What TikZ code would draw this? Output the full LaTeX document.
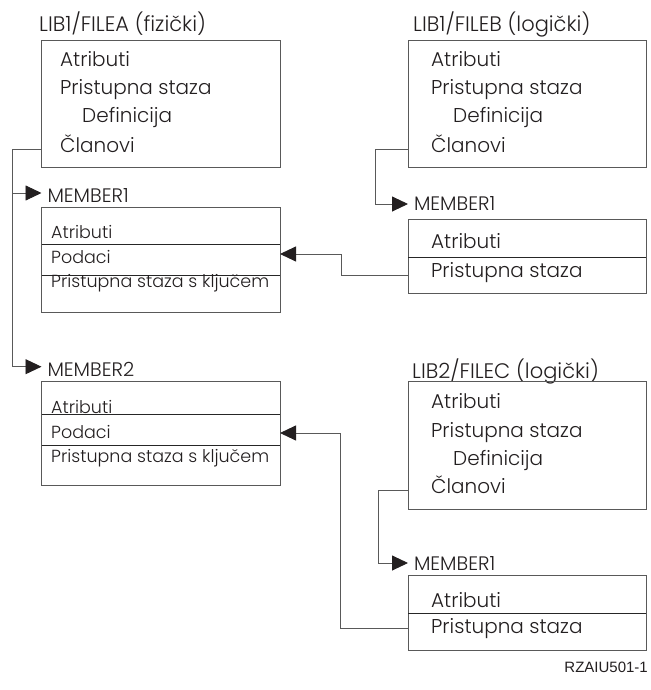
\documentclass[tikz,border=0pt]{standalone}
\usepackage{fontspec}
\setmainfont{Poppins}[UprightFont={* Light}]
\newfontfamily\codefont{Liberation Sans}
\usetikzlibrary{arrows.meta}
\definecolor{ink}{HTML}{231F20}
\tikzset{
  box/.style={draw=black!65, line width=0.9pt, inner sep=0pt, outer sep=0pt, anchor=north west},
  bigtxt/.style={anchor=base west, inner sep=0pt, text=ink, font=\fontsize{20}{20}\selectfont},
  titletxt/.style={anchor=base west, inner sep=0pt, text=ink, font=\fontsize{21}{21}\selectfont},
  smalltxt/.style={anchor=base west, inner sep=0pt, text=ink, font=\fontsize{17.5}{17.5}\selectfont},
  memlabel/.style={anchor=base west, inner xsep=6pt, inner ysep=0pt, outer sep=0pt, text=ink, font=\fontsize{19.5}{19.5}\selectfont},
  divider/.style={draw=black!85, line width=0.9pt},
  conn/.style={draw=black!65, line width=0.9pt},
  arr/.style={conn, -{Triangle[length=16pt,width=15pt,color=ink,fill=ink]}},
}
\begin{document}
\begin{tikzpicture}[x=1pt,y=-1pt]
\useasboundingbox (0,0) rectangle (650,690);

% ---- LIB1/FILEA (physical file) ----
\node[titletxt] (faT) at (39,32) {LIB1/FILEA (fizički)};
\node[box, minimum width=238.5pt, minimum height=127pt] (fa) at (41.5,40) {};
\node[bigtxt] (fa1) at (60,67) {Atributi};
\node[bigtxt] (fa2) at (60,95) {Pristupna staza};
\node[bigtxt] (fa3) at (82,123) {Definicija};
\node[bigtxt] (fa4) at (60,152) {Članovi};

% ---- MEMBER1 of FILEA ----
\node[memlabel] (maL) at (41.5,202) {MEMBER1};
\node[box, minimum width=238.5pt, minimum height=105pt] (ma) at (41.5,207) {};
\draw[divider] ([yshift=-37pt]ma.north west) -- ([yshift=-37pt]ma.north east);
\draw[divider] ([yshift=-68pt]ma.north west) -- ([yshift=-68pt]ma.north east);
\node[smalltxt] (ma1) at (51,238) {Atributi};
\node[smalltxt] (ma2) at (51,263) {Podaci};
\node[smalltxt] (ma3) at (51,287) {Pristupna staza s ključem};

% ---- MEMBER2 of FILEA ----
\node[memlabel] (mbL) at (41.5,376) {MEMBER2};
\node[box, minimum width=238.5pt, minimum height=104pt] (mb) at (41.5,381) {};
\draw[divider] ([yshift=-33pt]mb.north west) -- ([yshift=-33pt]mb.north east);
\draw[divider] ([yshift=-64pt]mb.north west) -- ([yshift=-64pt]mb.north east);
\node[smalltxt] (mb1) at (51,413) {Atributi};
\node[smalltxt] (mb2) at (51,438) {Podaci};
\node[smalltxt] (mb3) at (51,462) {Pristupna staza s ključem};

% ---- LIB1/FILEB (logical file) ----
\node[titletxt] (fbT) at (413,32) {LIB1/FILEB (logički)};
\node[box, minimum width=238pt, minimum height=127pt] (fb) at (408,40) {};
\node[bigtxt] (fb1) at (431,67) {Atributi};
\node[bigtxt] (fb2) at (431,95) {Pristupna staza};
\node[bigtxt] (fb3) at (453,123) {Definicija};
\node[bigtxt] (fb4) at (431,152) {Članovi};

% ---- MEMBER1 of FILEB ----
\node[memlabel] (mcL) at (408,210) {MEMBER1};
\node[box, minimum width=238pt, minimum height=74pt] (mc) at (408,219) {};
\draw[divider] ([yshift=-38pt]mc.north west) -- ([yshift=-38pt]mc.north east);
\node[bigtxt] (mc1) at (431,248) {Atributi};
\node[bigtxt] (mc2) at (431,277) {Pristupna staza};

% ---- LIB2/FILEC (logical file) ----
\node[titletxt] (fcT) at (412,378) {LIB2/FILEC (logički)};
\node[box, minimum width=238pt, minimum height=128pt] (fc) at (408,381) {};
\node[bigtxt] (fc1) at (431,408) {Atributi};
\node[bigtxt] (fc2) at (431,437) {Pristupna staza};
\node[bigtxt] (fc3) at (453,465) {Definicija};
\node[bigtxt] (fc4) at (431,493) {Članovi};

% ---- MEMBER1 of FILEC ----
\node[memlabel] (mdL) at (408,570) {MEMBER1};
\node[box, minimum width=238pt, minimum height=75pt] (md) at (408,575) {};
\draw[divider] ([yshift=-38pt]md.north west) -- ([yshift=-38pt]md.north east);
\node[bigtxt] (md1) at (431,607) {Atributi};
\node[bigtxt] (md2) at (431,633) {Pristupna staza};

% ---- figure id ----
\node[anchor=base east, inner sep=0pt, text=ink, font=\codefont\fontsize{15}{15}\selectfont] (fig) at (648,672) {RZAIU501-1};

% ---- connectors ----
\coordinate (aTrunk) at (12.7,149);
\coordinate (bBend) at (375,149);
\coordinate (cBend) at (341,254);
\coordinate (dBend) at (378,490);
\coordinate (eBend) at (340,433);

% FILEA members
\draw[conn] ([yshift=18pt]fa.south west) -- (aTrunk);
\draw[arr] (aTrunk) |- ([yshift=9pt]maL.base west);
\draw[arr] (aTrunk) |- ([yshift=9.3pt]mbL.base west);
% FILEB member
\draw[arr] ([yshift=18pt]fb.south west) -- (bBend) |- ([yshift=6pt]mcL.base west);
% FILEB member -> FILEA MEMBER1 data
\draw[arr] ([yshift=18pt]mc.south west) -| (cBend) -- ([yshift=-47pt]ma.north east);
% FILEC member
\draw[arr] ([yshift=19pt]fc.south west) -- (dBend) |- ([yshift=7pt]mdL.base west);
% FILEC member -> FILEA MEMBER2 data
\draw[arr] ([yshift=22pt]md.south west) -| (eBend) -- ([yshift=-52pt]mb.north east);
\end{tikzpicture}
\end{document}
